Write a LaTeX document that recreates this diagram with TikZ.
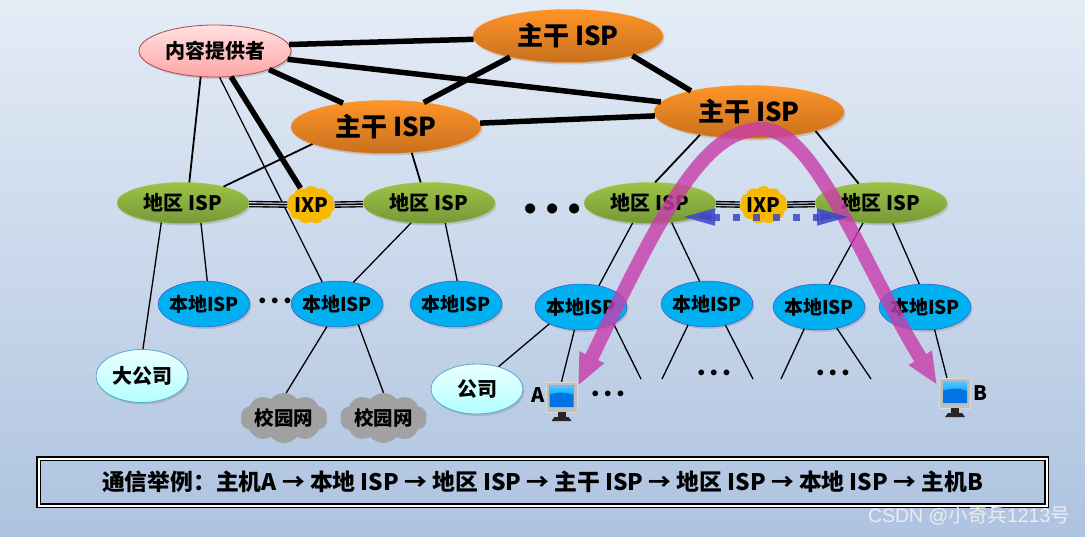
\documentclass[tikz,border=0pt]{standalone}
\usepackage{fontspec}
\setmainfont{Noto Sans CJK SC}
\setsansfont{Liberation Sans}
\usepackage{xcolor}
\usetikzlibrary{arrows.meta, shapes.geometric, shapes.symbols, shadows}
\definecolor{bgtop}{HTML}{E4ECF6}
\definecolor{bgbottom}{HTML}{AEC3E0}
\definecolor{flowpink}{HTML}{C83CAA}
\definecolor{flowblue}{HTML}{3C46C8}
\definecolor{bbtop}{HTML}{FF9428}
\definecolor{bbbottom}{HTML}{C8701E}
\definecolor{regtop}{HTML}{9CC444}
\definecolor{regbottom}{HTML}{76983A}
\definecolor{localblue}{HTML}{00B0F0}
\definecolor{ixpamber}{HTML}{F7BA00}
\tikzset{
  isp/.style={ellipse, inner sep=0pt, font=\bfseries\fontsize{20}{24}\selectfont, drop shadow={shadow xshift=1.5pt, shadow yshift=-2pt, opacity=.3}},
  contentisp/.style={isp, draw=red!50!black!70, thick, top color=red!12, bottom color=red!35, minimum width=152pt, minimum height=52pt},
  backbone/.style={isp, draw=bbtop, top color=bbtop, bottom color=bbbottom, minimum width=190pt, minimum height=53pt, font=\bfseries\fontsize{26}{30}\selectfont},
  region/.style={isp, draw=regtop, top color=regtop, bottom color=regbottom, minimum width=132pt, minimum height=41pt},
  localisp/.style={isp, inner sep=-6pt, draw=blue!50!gray, fill=localblue, minimum width=92pt, minimum height=46pt, font=\bfseries\fontsize{19}{23}\selectfont},
  company/.style={isp, draw=cyan!60!gray, thick, top color=cyan!8, bottom color=cyan!30, minimum width=92pt, minimum height=50pt},
  ixp/.style={cloud, cloud puffs=11, cloud puff arc=100, aspect=1.3, inner sep=-5pt, fill=ixpamber, minimum width=48pt, minimum height=38pt, font=\bfseries\fontsize{20}{24}\selectfont},
  campus/.style={cloud, cloud puffs=10, cloud puff arc=100, aspect=1.8, inner sep=-6pt, fill=black!37, minimum width=87pt, minimum height=50pt, font=\bfseries\fontsize{19.5}{23}\selectfont},
  dotrow/.style={inner sep=0pt, font=\sffamily\bfseries\fontsize{20}{22}\selectfont},
  hostlabel/.style={inner sep=0pt, font=\bfseries\fontsize{20}{24}\selectfont},
  trunk/.style={line width=5.5pt},
  link/.style={line width=1.8pt},
  thinlink/.style={line width=1.3pt},
  triple/.style={line width=6.5pt, postaction={draw=bgbottom!70!white, line width=3.8pt}, postaction={draw=black, line width=1.5pt}},
  pc/.pic={
    \node (-body) [minimum width=31pt, minimum height=30pt, inner sep=0pt, fill=black!25, draw=black!15] at (0,0) {};
    \fill[top color=cyan!60!blue!60, bottom color=cyan!70!blue] (-12,-12) rectangle (12,-2);
    \fill[blue!50!cyan!90!black] (-12,-2) to[bend left=20] (12,-2) -- (12,10) -- (-12,10) -- cycle;
    \fill[black!85] (-4,15) rectangle (4,20);
    \fill[black!85] (-10,24) -- (-7,20) -- (7,20) -- (10,24) -- cycle;
  }
}
\begin{document}
\begin{tikzpicture}[x=1pt, y=-1pt]
\shade[top color=bgtop, bottom color=bgbottom] (0,0) rectangle (1085,536);
\useasboundingbox (0,0) rectangle (1085,536);

\node (content) [contentisp] at (215,51) {内容提供者};
\node (bb1) [backbone] at (568,36) {主干 ISP};
\node (bb2) [backbone] at (386,127) {主干 ISP};
\node (bb3) [backbone] at (749,112) {主干 ISP};

\node (r1) [region] at (183,203) {地区 ISP};
\node (r2) [region] at (429,203) {地区 ISP};
\node (r3) [region] at (650,203) {地区 ISP};
\node (r4) [region] at (881,203) {地区 ISP};
\node (ixpl) [ixp] at (311,205) {IXP};
\node (ixpr) [ixp] at (763.5,205) {IXP};

\node (l1) [localisp] at (204,304) {本地ISP};
\node (l2) [localisp] at (337,304) {本地ISP};
\node (l3) [localisp] at (456,304) {本地ISP};
\node (l4) [localisp] at (581,307) {本地ISP};
\node (l5) [localisp] at (707,304) {本地ISP};
\node (l6) [localisp] at (819,307) {本地ISP};
\node (l7) [localisp] at (925,307) {本地ISP};

\node (bigco) [company, minimum height=53pt] at (142,376) {大公司};
\node (co) [company] at (477,389) {公司};
\node (cam1) [campus] at (284,418) {校园网};
\node (cam2) [campus] at (383.5,418) {校园网};

\pic (pcA) at (561.5,397) {pc};
\pic (pcB) at (955,393) {pc};
\node (labA) [hostlabel] at (538,395) {A};
\node (labB) [hostlabel] at (980,393) {B};

\node (dots1) [inner sep=0pt, font=\sffamily\bfseries\fontsize{35}{38}\selectfont] at (553,212) {• • •};
\node (dots2) [dotrow] at (275,303) {• • •};
\node (dots3) [dotrow] at (608,396) {• • •};
\node (dots4) [dotrow] at (714,375) {• • •};
\node (dots5) [dotrow] at (833,375) {• • •};

\coordinate (end1) at (641,379);
\coordinate (end2) at (662,379);
\coordinate (end3) at (753,379);
\coordinate (end4) at (781,379);
\coordinate (end5) at (871,379);

\draw[trunk] (content.5) -- (bb1.182);
\draw[trunk] (content.341) -- (bb2.151);
\draw[trunk] (content) -- (bb3);
\draw[trunk] (content) -- (ixpl);
\draw[trunk] (bb1.200) -- (bb2.33);
\draw[trunk] (bb1.343) -- (bb3.160);
\draw[trunk] (bb2) -- (bb3);

\draw[link] (content.241) -- (r1.73);
\draw[thinlink] (content.280) -- (l2.124);
\draw[link] (bb2.193) -- (r1.22);
\draw[link] (bb2.315) -- (r2.112);
\draw[link] (bb3.205) -- (r3.76);
\draw[link] (bb3.344) -- (r4.139);

\draw[triple] (r1) -- (ixpl);
\draw[triple] (ixpl) -- (r2);
\draw[triple] (r3) -- (ixpr);
\draw[triple] (ixpr) -- (r4);

\foreach \a/\b in {r1.222/bigco.88, r1.312/l1.82, r2.228/l2.53, r2.309/l3.87, r3.229/l4.50, r3.318/l5.108, r4.228/l6.66, r4.300/l7.104, l2.246/cam1.85, l2.316/cam2.90, l4.208/co.46, l4.254/pcA-body.north, l4.333/end1, l5.228/end2, l5.311/end3, l6.236/end4, l6.310/end5, l7.293/pcB-body.118}
  \draw[thinlink] (\a) -- (\b);

\coordinate (flowA) at (578,386);
\coordinate (flowtop) at (762,129);
\coordinate (flowB) at (937,385);
\begin{scope}[transparency group, opacity=.8]
\draw[-{Triangle[length=32pt,width=25pt]}, line width=14pt, flowpink] (flowtop) .. controls (815,129) and (860,260) .. (flowB);
\draw[-{Triangle[length=32pt,width=25pt]}, line width=14pt, flowpink] (flowtop) .. controls (705,129) and (665,205) .. (flowA);
\end{scope}

\coordinate (swapl) at (680,217);
\coordinate (swapr) at (852,217);
\draw[{Triangle[length=35pt,width=15pt]}-{Triangle[length=35pt,width=15pt]}, line width=7pt, flowblue, opacity=.85, dash pattern=on 7pt off 13pt] (swapl) -- (swapr);

\node (route) [draw, double, double distance=2pt, line width=1.2pt, minimum width=1008pt, minimum height=47pt, inner sep=0pt, font=\bfseries\fontsize{22.8}{27}\selectfont] at (542.5,482) {\raisebox{-2pt}{通信举例：主机A → 本地 ISP → 地区 ISP → 主干 ISP → 地区 ISP → 本地 ISP → 主机B}};
\node (mark) [inner sep=0pt, text=white!85!gray, font=\fontsize{19.5}{23}\selectfont] at (969,516) {\sffamily CSDN @\rmfamily 小奇兵\sffamily 1213\rmfamily 号};
\end{tikzpicture}
\end{document}
